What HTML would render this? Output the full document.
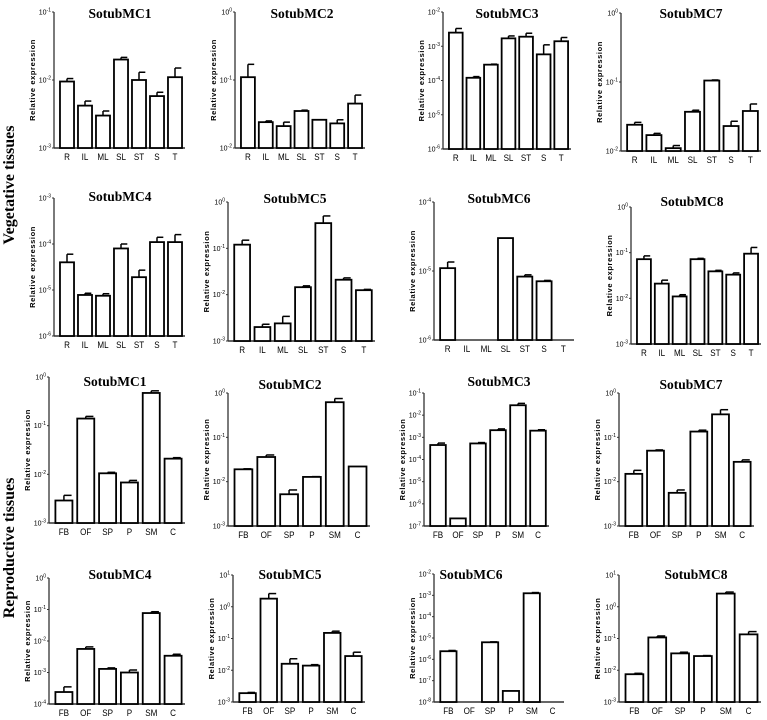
<!DOCTYPE html>
<html><head><meta charset="utf-8"><style>
html,body{margin:0;padding:0;background:#fff;}
svg{display:block;}
</style></head><body>
<svg id="chart" width="767" height="720" viewBox="0 0 767 720" xmlns="http://www.w3.org/2000/svg">
<text x="14" y="185" transform="rotate(-90 14 185)" text-anchor="middle" font-family="Liberation Serif, serif" font-weight="bold" font-size="16">Vegetative tissues</text>
<text x="14" y="548" transform="rotate(-90 14 548)" text-anchor="middle" font-family="Liberation Serif, serif" font-weight="bold" font-size="16">Reproductive tissues</text>
</svg>
<script>
const vegCategories = ["R","IL","ML","SL","ST","S","T"];
const repCategories = ["FB","OF","SP","P","SM","C"];
const titles = ["SotubMC1","SotubMC2","SotubMC3","SotubMC7","SotubMC4","SotubMC5","SotubMC6","SotubMC8","SotubMC1","SotubMC2","SotubMC3","SotubMC7","SotubMC4","SotubMC5","SotubMC6","SotubMC8"];
const yExpMin = [-3,-2,-6,-2,-6,-3,-6,-3,-3,-3,-7,-3,-4,-3,-8,-3];
const yExpMax = [-1,0,-2,0,-3,0,-4,0,0,0,-1,0,0,1,-2,1];
const vegMC1 = [9.5e-3,4.2e-3,3.0e-3,2.0e-2,1.0e-2,5.8e-3,1.1e-2];
const vegMC1Err = [1.05e-2,4.9e-3,3.5e-3,2.15e-2,1.3e-2,6.6e-3,1.5e-2];
const vegMC2 = [0.11,0.024,0.021,0.035,0.026,0.023,0.045];
const vegMC2Err = [0.17,0.025,0.024,0.036,0.026,0.026,0.06];
const vegMC3 = [2.5e-3,1.2e-4,2.9e-4,1.7e-3,1.9e-3,5.8e-4,1.4e-3];
const vegMC3Err = [3.3e-3,1.3e-4,3.0e-4,2.0e-3,2.4e-3,1.1e-3,1.8e-3];
const vegMC7 = [0.024,0.017,0.011,0.037,0.105,0.023,0.038];
const vegMC7Err = [0.026,0.018,0.012,0.039,0.107,0.027,0.048];
const vegMC4 = [4e-5,7.8e-6,7.5e-6,8e-5,1.9e-5,1.1e-4,1.1e-4];
const vegMC4Err = [6e-5,8.5e-6,8.3e-6,1e-4,2.7e-5,1.4e-4,1.6e-4];
const vegMC5 = [0.12,0.002,0.0024,0.0145,0.35,0.021,0.0125];
const vegMC5Err = [0.15,0.0023,0.0034,0.0155,0.5,0.023,0.013];
const vegMC6 = [1.1e-5,null,null,3e-5,8.3e-6,7.1e-6,null];
const vegMC6Err = [1.35e-5,null,null,3e-5,8.8e-6,7.3e-6,null];
const vegMC8 = [0.072,0.021,0.011,0.072,0.039,0.033,0.095];
const vegMC8Err = [0.085,0.025,0.012,0.075,0.041,0.036,0.13];
const repMC1 = [0.0029,0.14,0.0105,0.0068,0.47,0.021];
const repMC1Err = [0.0037,0.155,0.011,0.0075,0.52,0.022];
const repMC2 = [0.019,0.036,0.0052,0.0128,0.62,0.022];
const repMC2Err = [0.0195,0.04,0.0065,0.013,0.75,0.022];
const repMC3 = [4.5e-4,2.2e-7,5.3e-4,2.1e-3,0.028,2e-3];
const repMC3Err = [5.5e-4,2.2e-7,5.8e-4,2.4e-3,0.034,2.2e-3];
const repMC7 = [0.015,0.05,0.0056,0.135,0.33,0.028];
const repMC7Err = [0.018,0.052,0.0065,0.145,0.42,0.031];
const repMC4 = [2.4e-4,5.6e-3,1.3e-3,1.0e-3,0.077,3.4e-3];
const repMC4Err = [3.5e-4,6.5e-3,1.4e-3,1.2e-3,0.085,3.8e-3];
const repMC5 = [1.9e-3,1.8,0.016,0.014,0.15,0.028];
const repMC5Err = [2.0e-3,2.6,0.023,0.015,0.17,0.037];
const repMC6 = [2.4e-6,null,6.3e-6,3.3e-8,1.25e-3,null];
const repMC6Err = [2.6e-6,null,6.6e-6,3.3e-8,1.35e-3,null];
const repMC8 = [7.5e-3,0.108,0.034,0.028,2.6,0.135];
const repMC8Err = [8e-3,0.12,0.037,0.029,2.9,0.165];

const seriesList = [vegMC1,vegMC2,vegMC3,vegMC7,vegMC4,vegMC5,vegMC6,vegMC8,repMC1,repMC2,repMC3,repMC7,repMC4,repMC5,repMC6,repMC8];
const errList = [vegMC1Err,vegMC2Err,vegMC3Err,vegMC7Err,vegMC4Err,vegMC5Err,vegMC6Err,vegMC8Err,repMC1Err,repMC2Err,repMC3Err,repMC7Err,repMC4Err,repMC5Err,repMC6Err,repMC8Err];
// layout: [axisX, top, bottom, right, titleX, titleY]
const layout = [
 [54,12,148,185,120,13],[235,12,148,365,302,13],[443,12,149,571,507,13],[621,13,151,761,691,13],
 [54,198,336,185,120,196],[228,202,341,375,295,198],[434,202,340,574,499,198],[631,207,344,761,692,201],
 [49,377,523,185,115,381],[228,393,526,370,290,384],[424,393,526,549,499,381],[619,393,526,754,691,384],
 [49,578,704,185,120,574],[233,575,702,365,290,574],[434,574,702,564,471,574],[619,575,702,761,696,574]
];
const NS="http://www.w3.org/2000/svg";
const svg=document.getElementById('chart');
function mk(tag,attrs,parent){const e=document.createElementNS(NS,tag);for(const k in attrs)e.setAttribute(k,attrs[k]);(parent||svg).appendChild(e);return e;}

for(let p=0;p<16;p++){
  const [ax,top,bot,right,tx,ty]=layout[p];
  const cats = p<8?vegCategories:repCategories;
  const vals = seriesList[p], errs = errList[p];
  const lo=yExpMin[p], hi=yExpMax[p];
  const y=v=>bot-(Math.log10(v)-lo)/(hi-lo)*(bot-top);
  const g=mk('g',{});
  
  
  const t=mk('text',{x:tx,y:ty+5,'text-anchor':'middle','font-family':'Liberation Serif, serif','font-weight':'bold','font-size':'13.5'},g);
  t.textContent=titles[p];
  
  
  const yt=mk('text',{x:0,y:0,transform:`translate(${ax-19},${(top+bot)/2}) rotate(-90)`,'text-anchor':'middle','font-family':'Liberation Sans, sans-serif','font-weight':'bold','font-size':'7.5','letter-spacing':'0.6'},g);
  yt.textContent='Relative expression';
  
  
  // axes
  const yl=mk('line',{x1:ax,y1:top,x2:ax,y2:bot,stroke:'#333','stroke-width':1.3},g);
  
  
  const xl=mk('line',{x1:ax,y1:bot,x2:right,y2:bot,stroke:'#333','stroke-width':1.5},g);
  
  
  for(let e=lo;e<=hi;e++){
    const yy=y(Math.pow(10,e));
    mk('line',{x1:ax-2,y1:yy,x2:ax,y2:yy,stroke:'#333','stroke-width':1},g);
    const tl=mk('text',{x:ax-3,y:yy+2.5,'text-anchor':'end','font-family':'Liberation Sans, sans-serif','font-size':'7'},g);
    
    
    tl.appendChild(document.createTextNode('10'));
    const sp=document.createElementNS(NS,'tspan');sp.setAttribute('dy','-3');sp.setAttribute('font-size','5');sp.textContent=String(e);tl.appendChild(sp);
  }
  const x0=ax+4, x1=right-1, step=(x1-x0)/cats.length, bw=step*0.78;
  cats.forEach((c,i)=>{
    const cx=x0+step*(i+0.5);
    const cl=mk('text',{x:cx,y:bot+12,'text-anchor':'middle','font-family':'Liberation Sans, sans-serif','font-size':'9.5',transform:`translate(${cx},0) scale(0.85,1) translate(${-cx},0)`},g);
    cl.textContent=c;
    
    
    const v=vals[i];
    if(v==null) return;
    const by=y(v);
    const er=errs[i];
    if(er!=null && er>v){
      const ey=y(er);
      mk('line',{x1:cx,y1:ey,x2:cx,y2:by,stroke:'#000','stroke-width':1.5},g);
      mk('line',{x1:cx,y1:ey,x2:cx+bw*0.45,y2:ey,stroke:'#000','stroke-width':1.5},g);
    }
    const r=mk('rect',{x:cx-bw/2,y:by,width:bw,height:Math.max(0,bot-by),fill:'#fff',stroke:'#000','stroke-width':1.8},g);
    
    
  });
}
</script>
</body></html>
